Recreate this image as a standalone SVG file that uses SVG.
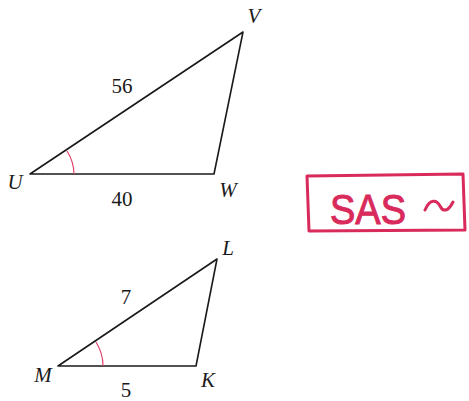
<svg xmlns="http://www.w3.org/2000/svg" width="469" height="401" viewBox="0 0 469 401">
<style>
.edge{fill:none;stroke:#1a1a1a;stroke-width:1.6;stroke-linejoin:round}
.arc{fill:none;stroke:#e0406a;stroke-width:1.2}
.lbl{font-family:"Liberation Serif",serif;font-style:italic;font-size:21px;fill:#1a1a1a}
.num{font-family:"Liberation Serif",serif;font-size:21px;fill:#1a1a1a}
.hand{fill:none;stroke:#d92a5c;stroke-width:3;stroke-linecap:round;stroke-linejoin:round}
</style>
<rect width="469" height="401" fill="#ffffff"/>
<g id="triangleUVW">
<polygon class="edge" points="30,174 214,174 243,32"/>
<path class="arc" d="M67,151 A44,44 0 0 1 74,174"/>
<text class="lbl" x="15" y="189" text-anchor="middle">U</text>
<text class="lbl" x="228" y="197" text-anchor="middle">W</text>
<text class="lbl" x="254" y="23" text-anchor="middle">V</text>
<text class="num" x="122" y="93" text-anchor="middle">56</text>
<text class="num" x="122" y="206" text-anchor="middle">40</text>
</g>
<g id="triangleMKL">
<polygon class="edge" points="58,366 196,366 217,259"/>
<path class="arc" d="M96,342 A45,45 0 0 1 103,366"/>
<text class="lbl" x="43" y="382" text-anchor="middle">M</text>
<text class="lbl" x="208" y="387" text-anchor="middle">K</text>
<text class="lbl" x="228" y="255" text-anchor="middle">L</text>
<text class="num" x="126" y="304" text-anchor="middle">7</text>
<text class="num" x="126" y="397" text-anchor="middle">5</text>
</g>
<g id="sasNote">
<path class="hand" d="M307,176 L463,174 L465,230 L309,231 Z"/>
<text x="330" y="224" font-family="'Liberation Sans',sans-serif" font-size="42" fill="#d92a5c" stroke="#d92a5c" stroke-width="1" textLength="76" lengthAdjust="spacingAndGlyphs">SAS</text>
<path class="hand" d="M425,210 C430,198 437,200 440,206 C443,212 448,212 453,202"/>
</g>
</svg>
